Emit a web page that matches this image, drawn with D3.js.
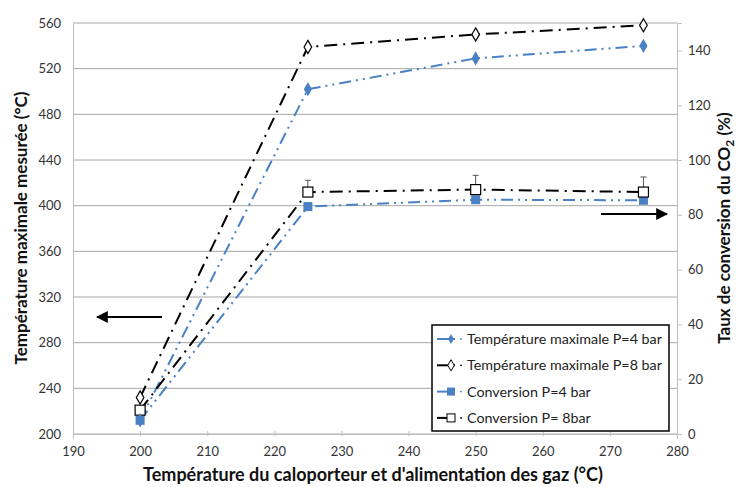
<!DOCTYPE html>
<html><head><meta charset="utf-8">
<script src="https://cdn.jsdelivr.net/npm/d3@7"></script>
<style>body{margin:0;background:#fff}svg{display:block}text{font-family:Lato,"Open Sans",sans-serif}</style>
</head><body>
<svg id="c" width="740" height="487"></svg>
<script>
const xValues = [200, 225, 250, 275];
const tempP4 = [212, 502, 529, 540];
const tempP8 = [232, 539, 550, 558];
const convP4 = [5, 83, 85.5, 85.3];
const convP8 = [8.7, 88.3, 89.2, 88.3];
const convP8Err = [0, 4.3, 5.2, 5.5];
const xTicks = [190,200,210,220,230,240,250,260,270,280];
const yLeftTicks = [200,240,280,320,360,400,440,480,520,560];
const yRightTicks = [0,20,40,60,80,100,120,140];
const legendLabels = ["Température maximale P=4 bar","Température maximale P=8 bar","Conversion P=4 bar","Conversion P= 8bar"];

const svg = d3.select("#c");
const L = 73, R = 677, T = 23, B = 434;
const blue = "#4a80c4";
const x = d3.scaleLinear().domain([190,280]).range([L,R]);
const yL = d3.scaleLinear().domain([200,560]).range([B,T]);
const yR = d3.scaleLinear().domain([0,150]).range([B,T]);

// gridlines
svg.append("g").selectAll("line").data(yLeftTicks).join("line")
  .attr("x1",L).attr("x2",R).attr("y1",d=>yL(d)).attr("y2",d=>yL(d))
  .attr("stroke","#a6a6a6").attr("stroke-width",1);

// axes
const axL = svg.append("g").attr("transform",`translate(${L},0)`)
  .call(d3.axisLeft(yL).tickValues(yLeftTicks).tickSize(0).tickPadding(12));
const axR = svg.append("g").attr("transform",`translate(${R},0)`)
  .call(d3.axisRight(yR).tickValues(yRightTicks).tickSize(5).tickPadding(6));
const axB = svg.append("g").attr("transform",`translate(0,${B})`)
  .call(d3.axisBottom(x).tickValues(xTicks).tickSize(5).tickPadding(8));
[axL,axR,axB].forEach(a=>{
  a.selectAll("path").attr("stroke","#bfbfbf");
  a.selectAll("line").attr("stroke","#bfbfbf");
  a.selectAll("text").attr("font-size",13).attr("fill","#333").style("font-family","Lato,sans-serif");
});
axB.selectAll(".tick line").attr("transform","translate(0,-3)");

// lines
function drawLine(vals, ys, color, dash){
  const line = d3.line().x((d,i)=>x(xValues[i])).y(d=>ys(d));
  svg.append("path").datum(vals).attr("d",line).attr("fill","none")
    .attr("stroke",color).attr("stroke-width",2).attr("stroke-dasharray",dash);
}
drawLine(tempP4, yL, blue, "12,5,2,5,2,5");
drawLine(tempP8, yL, "#000", "13,6,2,6");
drawLine(convP4, yR, blue, "12,5,2,5,2,5");
drawLine(convP8, yR, "#000", "13,6,2,6");

// error bars
const eb = svg.append("g");
convP8.forEach((v,i)=>{
  if(!convP8Err[i]) return;
  const cx = x(xValues[i]);
  eb.append("line").attr("x1",cx).attr("x2",cx).attr("y1",yR(v)).attr("y2",yR(v+convP8Err[i])).attr("stroke","#555").attr("stroke-width",1);
  eb.append("line").attr("x1",cx-3).attr("x2",cx+3).attr("y1",yR(v+convP8Err[i])).attr("y2",yR(v+convP8Err[i])).attr("stroke","#555").attr("stroke-width",1);
});

// markers
const diamond = d3.symbol().type(d3.symbolDiamond);
function diamonds(vals, fill, stroke, size){
  svg.append("g").selectAll("path").data(vals).join("path")
    .attr("d",diamond.size(size)()).attr("transform",(d,i)=>`translate(${x(xValues[i])},${yL(d)})`)
    .attr("fill",fill).attr("stroke",stroke).attr("stroke-width",1.2);
}
function squares(vals, fill, stroke, s){
  svg.append("g").selectAll("rect").data(vals).join("rect")
    .attr("x",(d,i)=>x(xValues[i])-s/2).attr("y",d=>yR(d)-s/2).attr("width",s).attr("height",s)
    .attr("fill",fill).attr("stroke",stroke).attr("stroke-width",1.2);
}
squares(convP4, blue, "none", 9);
squares(convP8, "#fff", "#000", 10);
diamonds(tempP4, blue, blue, 40);
diamonds(tempP8, "#fff", "#000", 50);

// arrows
svg.append("defs").append("marker").attr("id","ah").attr("viewBox","0 0 10 10")
  .attr("refX",9).attr("refY",5).attr("markerWidth",6).attr("markerHeight",6)
  .attr("orient","auto-start-reverse").append("path").attr("d","M0,0L10,5L0,10z").attr("fill","#000");
svg.append("line").attr("x1",162).attr("x2",97).attr("y1",317).attr("y2",317)
  .attr("stroke","#000").attr("stroke-width",2).attr("marker-end","url(#ah)");
svg.append("line").attr("x1",601).attr("x2",667).attr("y1",214).attr("y2",214)
  .attr("stroke","#000").attr("stroke-width",2).attr("marker-end","url(#ah)");

// legend
const lg = svg.append("g");
lg.append("rect").attr("x",432).attr("y",325).attr("width",237).attr("height",106)
  .attr("fill","#fff").attr("stroke","#000").attr("stroke-width",1.5);
const lcol = [blue,"#000",blue,"#000"];
legendLabels.forEach((t,i)=>{
  const yy = 339 + i*26.3;
  lg.append("line").attr("x1",437).attr("x2",455).attr("y1",yy).attr("y2",yy).attr("stroke",lcol[i]).attr("stroke-width",2);
  lg.append("circle").attr("cx",461).attr("cy",yy).attr("r",0.9).attr("fill",lcol[i]);
  if(i===0) lg.append("path").attr("d",diamond.size(30)()).attr("transform",`translate(451,${yy})`).attr("fill",blue);
  if(i===1) lg.append("path").attr("d",diamond.size(36)()).attr("transform",`translate(451,${yy})`).attr("fill","#fff").attr("stroke","#000");
  if(i===2) lg.append("rect").attr("x",447).attr("y",yy-4).attr("width",8).attr("height",8).attr("fill",blue);
  if(i===3) lg.append("rect").attr("x",447).attr("y",yy-4).attr("width",8).attr("height",8).attr("fill","#fff").attr("stroke","#000");
  lg.append("text").attr("x",467).attr("y",yy+5).attr("font-size",14.3).attr("fill","#222").text(t);
});

// titles
svg.append("text").attr("transform",`translate(27,228) rotate(-90)`).attr("text-anchor","middle")
  .attr("font-size",17).attr("font-weight","bold").attr("fill","#111").text("Température maximale mesurée (°C)");
const rt = svg.append("text").attr("transform",`translate(730,228) rotate(-90)`).attr("text-anchor","middle")
  .attr("font-size",17).attr("font-weight","bold").attr("fill","#111");
rt.append("tspan").text("Taux de conversion du CO");
rt.append("tspan").attr("font-size",12).attr("dy",4).text("2");
rt.append("tspan").attr("dy",-4).text(" (%)");
svg.append("text").attr("x",373).attr("y",481).attr("text-anchor","middle")
  .attr("font-size",18).attr("font-weight","bold").attr("fill","#111").text("Température du caloporteur et d'alimentation des gaz (°C)");
</script>
</body></html>
